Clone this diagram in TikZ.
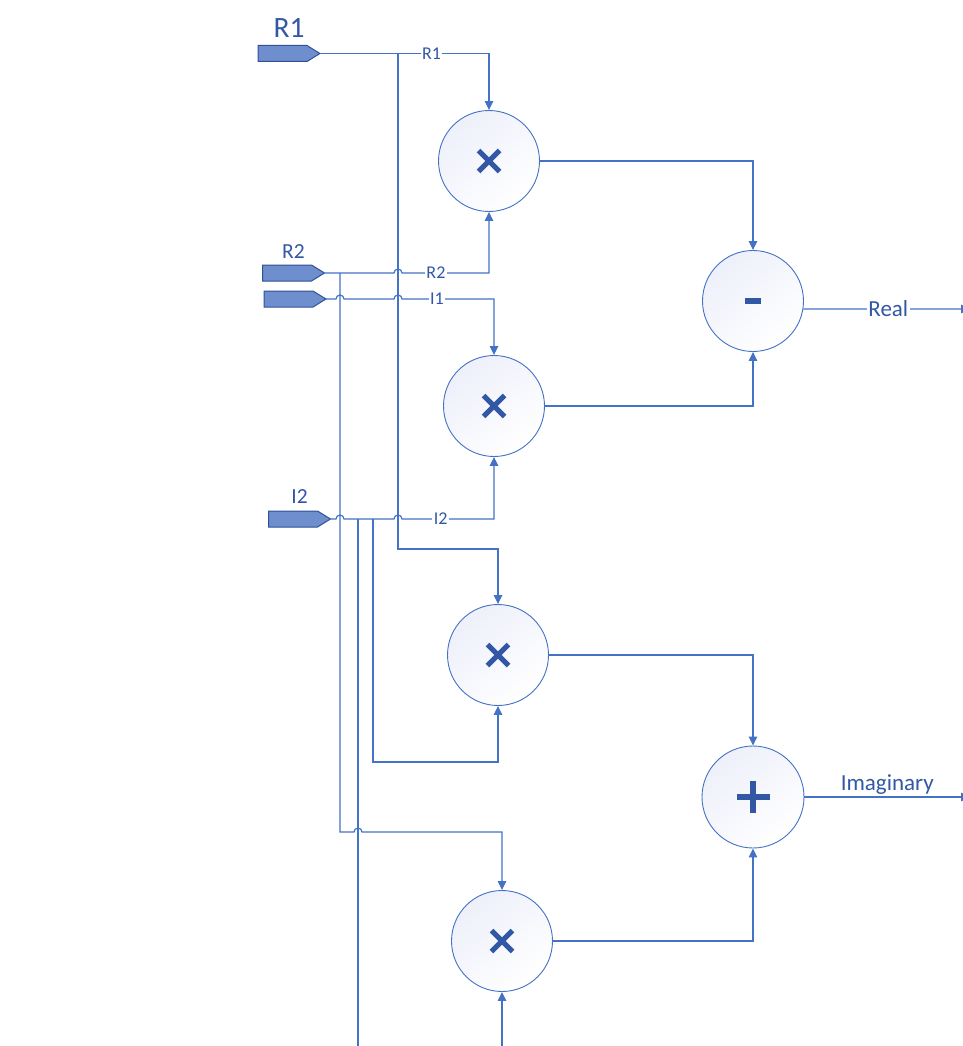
\documentclass[tikz,border=0pt]{standalone}
\usepackage{fontspec}
\setmainfont{Carlito}
\definecolor{wireblue}{RGB}{68,114,196}
\definecolor{txtblue}{RGB}{50,88,165}
\definecolor{portfill}{RGB}{110,142,206}
\definecolor{portline}{RGB}{47,82,150}
\definecolor{circfill}{RGB}{238,240,250}
\usetikzlibrary{arrows.meta, positioning}

\begin{document}
\begin{tikzpicture}[
        x=1pt, y=-1pt,
        port/.style={rectangle, minimum width=62pt, minimum height=16pt, inner sep=0pt, outer sep=0pt},
        portshape/.style={draw=portline, line width=1pt, fill=portfill, line join=miter},
        portlab/.style={text=txtblue, font=\fontsize{21.5}{22}\selectfont, inner sep=1pt},
        op/.style={circle, draw=wireblue, line width=0.9pt, top color=circfill, bottom color=white, shading angle=40, minimum size=101pt, inner sep=0pt},
        wire/.style={draw=wireblue, line width=1.2pt},
        arrow/.style={wire, -{Triangle[width=8.5pt,length=9pt]}},
        lab/.style={fill=white, text=txtblue, font=\fontsize{18}{18}\selectfont, inner sep=1.5pt},
        outlab/.style={text=txtblue, font=\fontsize{23}{23}\selectfont, inner sep=1.5pt},
        sym/.style={draw=txtblue, line width=5pt}
    ]
        \useasboundingbox (0,0) rectangle (962,1046);

        % Inputs
        \node[port] (in1) at (289,53.5) {};
        \node[port] (in2) at (293.5,273) {};
        \node[port] (in3) at (295,299) {};
        \node[port] (in4) at (299.5,519) {};
        \foreach \p in {in1,in2,in3,in4}
            \draw[portshape] (\p.north west) -- ([xshift=-13pt]\p.north east) -- (\p.east)
                -- ([xshift=-13pt]\p.south east) -- (\p.south west) -- cycle;
        \node[portlab, font=\fontsize{29.5}{30}\selectfont, above=7pt of in1] (in1lab) {R1};
        \node[portlab, above=5pt of in2] (in2lab) {R2};
        \node[portlab, above=6pt of in4] (in4lab) {I2};

        % Operators
        \node[op] (m1) at (489,161) {};
        \node[op] (m2) at (494,406) {};
        \node[op] (m3) at (498,655) {};
        \node[op] (m4) at (502,941) {};
        \node[op] (sub) at (753,301) {};
        \node[op, minimum size=102pt] (add) at (753,797) {};

        \foreach \n in {m1,m2,m3,m4}
            \draw[sym] (\n) +(-10.5,-10.5) -- +(10.5,10.5) +(-10.5,10.5) -- +(10.5,-10.5);
        \draw[sym, line width=5.5pt] (sub) +(-8,0) -- +(8,0);
        \draw[sym, line width=5.5pt] (add) +(-16.5,0) -- +(16.5,0) +(0,-16) -- +(0,16);

        % Taps and bends
        \coordinate (r1tap) at (398,53.5);
        \coordinate (r1bend) at (398,549);
        \coordinate (r2tap) at (340,273);
        \coordinate (r2bend) at (340,832);
        \coordinate (i2tapa) at (373,519);
        \coordinate (i2bend) at (373,762);
        \coordinate (i2tapb) at (358,519);
        \coordinate (i2end) at (358,1046);
        \coordinate (m4in) at (502,1046);
        \coordinate (realout) at (970,309);
        \coordinate (imagout) at (970,797);

        % Input wires
        \draw[arrow] (in1.east) -- node[lab, pos=0.66] {R1} (m1 |- in1.east) -- (m1.north);
        \draw[arrow] (in2.east) -- ([xshift=-4pt]r1tap |- in2.east) arc[start angle=180, end angle=0, radius=4pt]
            -- node[lab, pos=0.39] {R2} (m1 |- in2.east) -- (m1.south);
        \draw[arrow] (in3.east) -- ([xshift=-4pt]r2tap |- in3.east) arc[start angle=180, end angle=0, radius=4pt]
            -- ([xshift=-4pt]r1tap |- in3.east) arc[start angle=180, end angle=0, radius=4pt]
            -- node[lab, pos=0.38] {I1} (m2 |- in3.east) -- (m2.north);
        \draw[arrow] (in4.east) -- ([xshift=-4pt]r2tap |- in4.east) arc[start angle=180, end angle=0, radius=4pt]
            -- ([xshift=-4pt]r1tap |- in4.east) arc[start angle=180, end angle=0, radius=4pt]
            -- node[lab, pos=0.42] {I2} (m2 |- in4.east) -- (m2.south);

        % Branches
        \draw[arrow] (r1tap) -- (r1bend) -| (m3.north);
        \draw[arrow] (r2tap) -- (r2bend) -- ([xshift=-4pt]i2tapb |- r2bend) arc[start angle=180, end angle=0, radius=4pt] -| (m4.north);
        \draw[arrow] (i2tapa) -- (i2bend) -| (m3.south);
        \draw[wire] (i2tapb) -- (i2end);
        \draw[arrow] (m4in) -- (m4.south);

        % Outputs
        \draw[arrow] (m1.east) -| (sub.north);
        \draw[arrow] (m2.east) -| (sub.south);
        \draw[arrow] (m3.east) -| (add.north);
        \draw[arrow] (m4.east) -| (add.south);
        \draw[arrow] (sub.-9) -- node[lab, font=\fontsize{23}{23}\selectfont, pos=0.51] {Real} (realout);
        \draw[arrow] (add.east) -- node[outlab, above] {Imaginary} (imagout);
    \end{tikzpicture}
\end{document}
